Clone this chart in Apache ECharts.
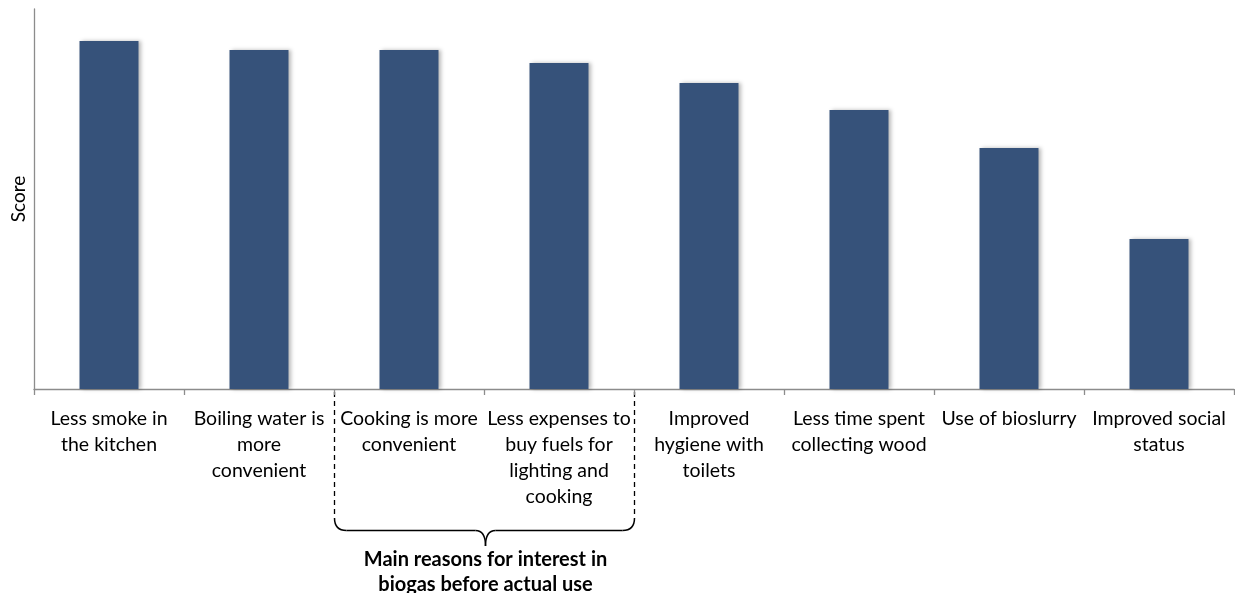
<!DOCTYPE html>
<html>
<head>
<meta charset="utf-8">
<script src="https://cdn.jsdelivr.net/npm/echarts@6/dist/echarts.min.js"></script>
<style>
html,body{margin:0;padding:0;background:#fff;}
#chart{width:1235px;height:593px;}
</style>
</head>
<body>
<div id="chart"></div>
<script>
var categories = [
  "Less smoke in\nthe kitchen",
  "Boiling water is\nmore\nconvenient",
  "Cooking is more\nconvenient",
  "Less expenses to\nbuy fuels for\nlighting and\ncooking",
  "Improved\nhygiene with\ntoilets",
  "Less time spent\ncollecting wood",
  "Use of bioslurry",
  "Improved social\nstatus"
];
var scores = [91.6, 89.2, 89.2, 85.8, 80.5, 73.4, 63.4, 39.5];
var yAxisName = "Score";
var groupLabel = "Main reasons for interest in\nbiogas before actual use";
var groupRange = [2, 3];

var FONT = "Lato, 'Open Sans', sans-serif";
var chart = echarts.init(document.getElementById('chart'), null, {renderer: 'canvas'});
chart.setOption({
  animation: false,
  backgroundColor: '#ffffff',
  grid: {left: 34, right: 1, top: 9, bottom: 204, containLabel: false, outerBoundsMode: 'none'},
  xAxis: {
    type: 'category',
    data: categories,
    boundaryGap: true,
    axisLine: {show: true, lineStyle: {color: '#8c8c8c', width: 1.3}},
    axisTick: {show: true, interval: 0, alignWithLabel: false, length: 6, lineStyle: {color: '#8c8c8c', width: 1.3}},
    axisLabel: {interval: 0, margin: 17, color: '#000', fontFamily: FONT, fontSize: 19.5, lineHeight: 26, align: 'center'},
    splitLine: {show: false}
  },
  yAxis: {
    type: 'value',
    min: 0, max: 100,
    name: yAxisName,
    nameLocation: 'middle',
    nameGap: 6,
    nameRotate: 90,
    nameTextStyle: {color: '#000', fontFamily: FONT, fontSize: 19, verticalAlign: 'bottom'},
    axisLine: {show: true, lineStyle: {color: '#8c8c8c', width: 1.3}},
    axisTick: {show: false},
    axisLabel: {show: false},
    splitLine: {show: false}
  },
  series: [{
    type: 'bar',
    data: scores,
    barWidth: 59,
    itemStyle: {
      color: '#36527a',
      shadowColor: 'rgba(0,0,0,0.28)',
      shadowBlur: 4,
      shadowOffsetX: 2,
      shadowOffsetY: 0
    }
  }]
});

// group annotation (dashed box + brace + label), positioned from the axis scale
var c0 = chart.convertToPixel({xAxisIndex: 0}, groupRange[0]);
var c1 = chart.convertToPixel({xAxisIndex: 0}, groupRange[1]);
var band = c1 - c0;
var L = Math.round(c0 - band / 2) + 0.5;
var R = Math.round(c1 + band / 2) + 0.5;
var M = Math.round((L + R) / 2) + 0.5;
var yAxisPix = chart.convertToPixel({yAxisIndex: 0}, 0);
var yTop = yAxisPix + 3, yEnd = 518, yH = 530.5, yTip = 546;
var stroke = {stroke: '#000', lineWidth: 1.5};
function seg(x1, y1, x2, y2) {
  return {type: 'line', silent: true, shape: {x1: x1, y1: y1, x2: x2, y2: y2}, style: stroke};
}
function curve(x1, y1, cx, cy, x2, y2) {
  return {type: 'bezierCurve', silent: true, shape: {x1: x1, y1: y1, x2: x2, y2: y2, cpx1: cx, cpy1: cy}, style: {stroke: '#000', lineWidth: 1.5, fill: 'none'}};
}
chart.setOption({
  graphic: [
    {type: 'line', silent: true, shape: {x1: L, y1: yTop, x2: L, y2: yEnd}, style: {stroke: '#000', lineWidth: 1.3, lineDash: [5, 4]}},
    {type: 'line', silent: true, shape: {x1: R, y1: yTop, x2: R, y2: yEnd}, style: {stroke: '#000', lineWidth: 1.3, lineDash: [5, 4]}},
    curve(L, yEnd, L, yH, L + 12, yH),
    seg(L + 12, yH, M - 10, yH),
    curve(M - 10, yH, M, yH, M, yTip),
    curve(M, yTip, M, yH, M + 10, yH),
    seg(M + 10, yH, R - 12, yH),
    curve(R - 12, yH, R, yH, R, yEnd),
    {type: 'text', silent: true, x: M, y: 547, style: {text: groupLabel, fill: '#000', font: 'bold 20px ' + FONT, align: 'center', verticalAlign: 'top', lineHeight: 25}}
  ]
});
</script>
</body>
</html>
